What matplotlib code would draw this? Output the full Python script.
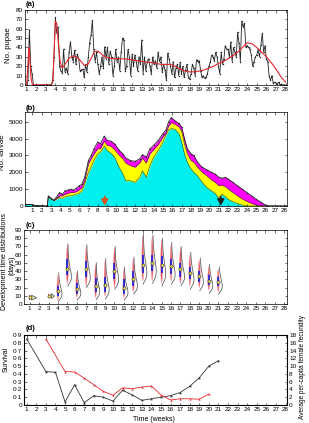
import numpy as np
import matplotlib
matplotlib.use("Agg")
import matplotlib.pyplot as plt

plt.rcParams['font.family'] = ['Liberation Sans', 'DejaVu Sans']

# ---------------- data ----------------
# (a) daily pupae counts, one value per day starting at week 1
pupae_daily = [0, 5, 59, 20, 12, 0, 0,
               0, 0, 0, 0, 0, 0, 0,
               0, 0, 0, 0, 0, 5, 30,
               72, 55, 62, 20, 15, 13, 38,
               14, 18, 12, 35, 46, 30, 25,
               37, 22, 33, 28, 15, 16, 17,
               8, 22, 14, 30, 45, 53, 69,
               38, 25, 35, 22, 12, 20, 30,
               18, 41, 28, 40, 22, 36, 30,
               10, 20, 38, 25, 30, 15, 35,
               50, 48, 15, 20, 38, 30, 10,
               33, 20, 32, 25, 15, 30, 22,
               48, 12, 30, 15, 25, 28, 20,
               12, 30, 22, 26, 18, 35, 25,
               30, 14, 22, 16, 5, 34, 28,
               20, 12, 25, 8, 18, 22, 10,
               24, 12, 20, 8, 16, 22, 8,
               6, 12, 22, 18, 10, 27, 25,
               26, 15, 8, 10, 7, 8, 12,
               20, 24, 32, 30, 26, 35, 30,
               20, 12, 35, 22, 28, 42, 38,
               38, 30, 46, 25, 40, 35, 30,
               56, 45, 25, 68, 62, 66, 40,
               42, 40, 38, 32, 20, 25, 30,
               32, 38, 30, 43, 55, 35, 42,
               28, 25, 10, 5, 10, 2, 3,
               2, 1, 3, 0, 1, 0, 0, 0]
smooth_weeks = [1.0, 1.1, 1.2, 1.27, 1.35, 1.45, 1.6, 2.0, 3.0, 3.6, 3.75, 3.9, 4.0, 4.15,
                4.3, 4.5, 4.7, 5.0, 5.4, 5.8, 6.2, 6.6, 7.0, 7.4, 7.8, 8.1, 8.5, 9.0, 9.5,
                10.0, 11.0, 12.0, 13.0, 14.0, 15.0, 16.0, 16.5, 17.0, 17.5, 18.0, 18.5,
                19.0, 19.5, 20.0, 20.5, 21.0, 21.5, 22.0, 22.5, 23.0, 23.5, 24.0, 24.5,
                25.0, 25.5, 26.0, 26.5, 27.0, 27.5, 28.0]
smooth_pupae = [0, 15, 35, 40, 25, 8, 0, 0, 0, 0, 5, 45, 68, 65,
                45, 25, 18, 22, 28, 31, 30, 26, 21, 22, 30, 36, 36, 31, 29,
                28, 28, 27, 25, 24, 22, 22, 20, 17, 15, 14, 14,
                15, 16, 18, 20, 23, 25, 28, 31, 35, 40, 45, 44,
                40, 35, 30, 24, 17, 9, 3]

# (b) larvae, stacked: cyan layer top, yellow layer top, total (magenta top)
larvae_weeks = [0.2, 0.5, 0.9, 1.2, 1.6, 2.0, 2.4, 2.6, 2.7, 3.0, 3.3, 3.6, 3.9, 4.2, 4.5,
                4.8, 5.1, 5.4, 5.7, 6.0, 6.3, 6.6, 7.0, 7.3, 7.6, 8.0, 8.3, 8.7, 9.0, 9.4,
                9.8, 10.3, 10.7, 11.0, 11.5, 12.0, 12.5, 12.8, 13.2, 13.6, 14.0, 14.5, 15.0,
                15.3, 15.6, 15.9, 16.3, 16.7, 17.0, 17.3, 17.6, 18.0, 18.3, 18.7, 19.2, 19.7,
                20.2, 20.6, 21.0, 21.3, 21.7, 22.0, 22.5, 23.0, 23.5, 24.0, 24.5, 25.0, 25.5,
                26.0, 26.3, 26.7, 27.2, 27.6, 28.0, 28.3]
larvae_total = [100, 100, 80, 40, 20, 10, 0, 0, 600, 450, 350, 550, 800, 700, 900,
                950, 1000, 950, 1050, 1200, 1300, 1700, 2700, 3000, 3400, 3800, 3700, 4150, 3900, 3850,
                3700, 3300, 3100, 2850, 2700, 2650, 2800, 3050, 2900, 3400, 3600, 3900, 4300,
                4500, 5000, 5250, 5050, 4900, 4700, 4000, 3400, 3100, 3000, 2600, 2300, 2150,
                2000, 1900, 1700, 1650, 1700, 1600, 1400, 1200, 1000, 800, 600, 400, 220,
                60, 0, 0, 0, 0, 0, 0]
larvae_yellow_top = [100, 100, 80, 40, 20, 10, 0, 0, 580, 430, 330, 450, 600, 600, 700,
                     750, 800, 800, 850, 950, 1100, 1500, 2500, 2800, 3100, 3400, 3400, 3850, 3600, 3550,
                     3350, 3000, 2800, 2550, 2400, 2300, 2550, 2850, 2550, 3100, 3350, 3650, 4100,
                     4300, 4750, 4950, 4850, 4700, 4450, 3700, 3100, 2700, 2600, 2300, 2000, 1800,
                     1550, 1400, 1200, 1250, 1150, 1000, 800, 600, 420, 280, 150, 60, 20,
                     0, 0, 0, 0, 0, 0, 0]
larvae_cyan_top = [100, 100, 80, 40, 20, 10, 0, 0, 560, 400, 320, 400, 500, 450, 550,
                   600, 600, 650, 700, 750, 900, 1300, 2000, 2300, 2700, 3100, 3200, 3550, 3300, 3150,
                   2900, 2300, 1900, 1500, 1500, 1400, 1700, 2100, 1700, 2400, 2900, 3300, 3800,
                   4200, 4500, 4600, 4550, 4300, 3800, 3100, 2600, 2200, 2000, 1800, 1400, 1100,
                   900, 750, 450, 700, 550, 400, 250, 150, 60, 0, 0, 0, 0,
                   0, 0, 0, 0, 0, 0, 0]
arrow_weeks = [8.75, 21.2]

# (c) development time distributions per week
dev_weeks = [4, 5, 6, 7, 8, 9, 10, 11, 12, 13, 14, 15, 16, 17, 18, 19, 20, 21]
dev_median = [16, 43, 18, 42, 22, 23, 40, 20, 30, 48, 50, 47, 46, 42, 38, 34, 28, 27]
dev_low = [5, 25, 8, 22, 8, 10, 20, 8, 15, 28, 28, 25, 28, 25, 22, 20, 17, 15]
dev_high = [35, 72, 38, 70, 48, 52, 68, 42, 55, 83, 82, 78, 72, 68, 60, 53, 45, 42]
dev_q1 = [10, 35, 12, 33, 15, 15, 30, 12, 22, 38, 40, 38, 37, 33, 30, 27, 23, 22]
dev_q3 = [22, 55, 25, 52, 32, 33, 50, 30, 40, 60, 60, 58, 55, 50, 45, 40, 35, 33]
fit_low = [3, 22, 5, 20, 5, 6, 18, 5, 12, 24, 25, 22, 24, 22, 18, 16, 13, 12]
fit_mode = [12, 33, 13, 32, 15, 17, 30, 14, 22, 38, 40, 37, 36, 33, 30, 27, 22, 22]
fit_high = [38, 73, 40, 72, 50, 55, 70, 45, 57, 85, 84, 80, 75, 70, 63, 56, 48, 45]
early_weeks = [1, 3]
early_median = [8, 10]
early_low = [5, 8]
early_high = [11, 12]

# (d) survival and fecundity
surv_weeks = [1, 3, 4, 5, 6, 7, 8, 9, 10, 11, 12, 13, 14, 15, 16, 17, 18, 19, 20, 21]
survival = [0.85, 0.43, 0.42, 0.04, 0.26, 0.03, 0.12, 0.10, 0.05, 0.19, 0.13, 0.06, 0.08,
            0.10, 0.12, 0.16, 0.24, 0.35, 0.50, 0.57]
fec_weeks = [3, 5, 6, 7, 8, 9, 10, 11, 12, 13, 14, 15, 16, 17, 18, 19, 20]
fecundity = [17.0, 8.6, 8.5, 6.9, 5.2, 3.5, 2.5, 4.4, 4.2, 4.6, 4.9, 2.6, 1.3, 1.6, 1.6, 1.5, 2.8]

week_ticks = list(range(1, 29))

# ---------------- figure ----------------
W, H = 309, 423
fig = plt.figure(figsize=(W / 100, H / 100), dpi=100)

def pos(l, t, r, b):
    return [l / W, 1 - b / H, (r - l) / W, (b - t) / H]

TFS = 4.6
LFS = 5.6

def style(ax, xlim):
    ax.set_xlim(*xlim)
    ax.set_xticks(week_ticks)
    ax.set_xticklabels([str(w) for w in week_ticks])
    ax.tick_params(direction='in', length=1.8, width=0.4, labelsize=TFS, pad=1.5,
                   top=True, right=True)
    for s in ax.spines.values():
        s.set_linewidth(0.5)

# (a)
axa = fig.add_axes(pos(25, 10, 287, 85))
da = np.arange(len(pupae_daily))
xa = 1 + da / 7.0
axa.plot(xa, pupae_daily, '-', color='#222222', lw=0.6, marker='s', ms=0.9, mew=0)
axa.plot(smooth_weeks, smooth_pupae, '-', color='#e8262b', lw=0.8)
style(axa, (0.83, 28.15))
axa.set_ylim(0, 80)
axa.set_yticks(range(0, 81, 10))
fig.text(8 / W, 1 - 45 / H, 'No. pupae', rotation=90, ha='center', va='center', fontsize=LFS)
fig.text(26 / W, 1 - 5 / H, '(a)', ha='left', va='center', fontsize=5.5, fontweight='bold')

# (b)
axb = fig.add_axes(pos(25, 112, 287, 206))
axb.fill_between(larvae_weeks, 0, larvae_cyan_top, color='#00f0f0', lw=0)
axb.fill_between(larvae_weeks, larvae_cyan_top, larvae_yellow_top, color='#ffff00', lw=0)
axb.fill_between(larvae_weeks, larvae_yellow_top, larvae_total, color='#ff00ff', lw=0)
axb.plot(larvae_weeks, larvae_cyan_top, color='#2a4a10', lw=0.4)
axb.plot(larvae_weeks, larvae_yellow_top, color='#3a2a10', lw=0.4)
axb.plot(larvae_weeks, larvae_total, color='#222222', lw=0.6, marker='o', ms=0.9, mew=0)
for aw, ac in zip(arrow_weeks, ['#d9541e', '#222222']):
    axb.annotate('', xy=(aw, 20), xytext=(aw, 560),
                 arrowprops=dict(arrowstyle='-|>,head_width=0.2,head_length=0.35',
                                 color=ac, lw=1.3, shrinkA=0, shrinkB=0))
style(axb, (0.2, 28.3))
axb.set_ylim(0, 5580)
axb.set_yticks(range(0, 5001, 1000))
fig.text(3 / W, 1 - 152 / H, 'No. larvae', rotation=90, ha='center', va='center', fontsize=LFS)
fig.text(26 / W, 1 - 108 / H, '(b)', ha='left', va='center', fontsize=5.5, fontweight='bold')

# (c)
axc = fig.add_axes(pos(24, 230, 287, 304))
for i, w in enumerate(dev_weeks):
    lo, hi, md = dev_low[i], dev_high[i], dev_median[i]
    yy = np.linspace(lo, hi, 80)
    t = np.where(yy < md, 0.5 * (yy - lo) / (md - lo), 0.5 + 0.5 * (yy - md) / (hi - md))
    half = 0.11 * np.sin(np.pi * t) ** 0.6
    axc.fill(np.concatenate([w - half, (w + half)[::-1]]), np.concatenate([yy, yy[::-1]]),
             fc='#e8424c', alpha=0.9, lw=0.3, ec='#f2a0a6')
    axc.plot([w, w], [dev_q1[i], dev_q3[i]], color='#1e28d8', lw=1.3, solid_capstyle='butt')
    fl, fm, fh = fit_low[i], fit_mode[i], fit_high[i]
    gy = np.linspace(fl, fh, 80)
    u = (gy - fl) / (fm - fl)
    g = u ** 1.6 * np.exp(1.6 * (1 - u))
    axc.plot(w + 0.05 + 0.38 * g, gy, color='#555555', lw=0.55)
    axc.plot(w, md, 'o', ms=2.3, mfc='#e6dc50', mec='#333333', mew=0.4)
for i, w in enumerate(early_weeks):
    lo, hi, md = early_low[i], early_high[i], early_median[i]
    axc.fill([w - 0.07, w + 0.07, w + 0.07, w - 0.07], [lo, lo, hi, hi], color='#e8424c', lw=0)
    size = 0.55 if w == 1 else 0.35
    off = 0.2 if w == 1 else 0.28
    axc.fill([w + off, w + off + size, w + off], [md + 2.6, md - 0.5, md - 3.2],
             fc='#f3ecb0', ec='#444444', lw=0.5)
    axc.plot(w, md, 'o', ms=2.3, mfc='#e6dc50', mec='#333333', mew=0.4)
style(axc, (0.4, 28.3))
axc.set_ylim(0, 90)
axc.set_yticks(range(0, 91, 10))
fig.text(5 / W, 1 - 262 / H, 'Development time distributions', rotation=90,
         ha='center', va='center', fontsize=5.0)
fig.text(12 / W, 1 - 265 / H, '(days)', rotation=90, ha='center', va='center', fontsize=5.0)
fig.text(26 / W, 1 - 225 / H, '(c)', ha='left', va='center', fontsize=5.5, fontweight='bold')

# (d)
axd = fig.add_axes(pos(24, 335, 287, 405))
axd.plot(surv_weeks, survival, '-', color='#333333', lw=0.6, marker='s', ms=1.3, mew=0)
style(axd, (0.72, 28.15))
axd.tick_params(right=False)
axd.set_ylim(0, 0.9)
yt = [i / 10 for i in range(10)]
axd.set_yticks(yt)
axd.set_yticklabels(['0'] + ['0\u00b7%d' % i for i in range(1, 10)])
axr = axd.twinx()
axr.plot(fec_weeks, fecundity, '-', color='#e8262b', lw=0.6, marker='^', ms=1.6, mew=0)
axr.set_ylim(0, 18)
axr.set_yticks(range(0, 19, 2))
axr.tick_params(direction='in', length=1.8, width=0.4, labelsize=TFS, pad=1.5)
fig.text(6 / W, 1 - 359 / H, 'Survival', rotation=90, ha='center', va='center', fontsize=5.0)
fig.text(303 / W, 1 - 367 / H, 'Average per-capita female fecundity', rotation=90,
         ha='center', va='center', fontsize=4.7)
fig.text(154 / W, 1 - 419 / H, 'Time (weeks)', ha='center', va='center', fontsize=5.0)
fig.text(26 / W, 1 - 328 / H, '(d)', ha='left', va='center', fontsize=5.5, fontweight='bold')

fig.savefig('out.png', dpi=100)
